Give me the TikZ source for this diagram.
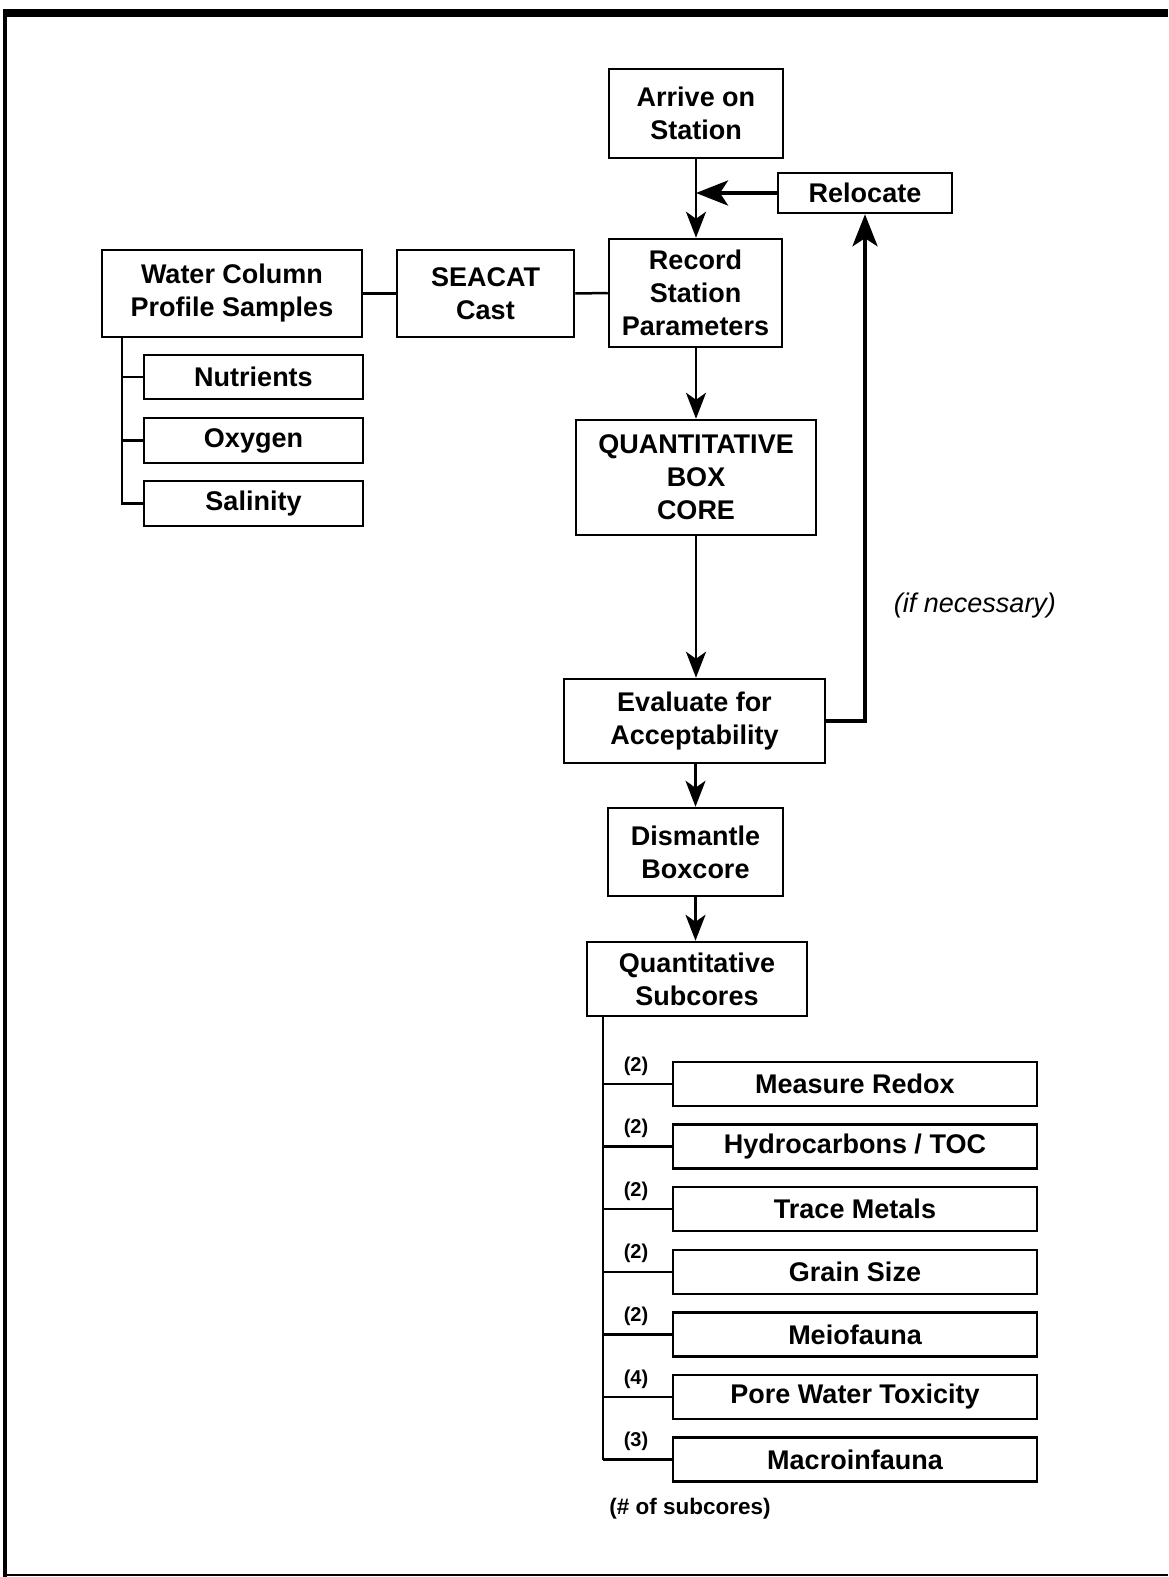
\documentclass[tikz,border=0pt]{standalone}
\usepackage{fontspec}
\setmainfont{Liberation Sans}
\usetikzlibrary{arrows.meta}
\begin{document}
\begin{tikzpicture}[x=1pt,y=-1pt,
  box/.style={draw, line width=2.5pt, font=\bfseries\fontsize{27}{33}\selectfont, align=center, inner sep=0pt, anchor=center},
  lbl/.style={font=\bfseries\fontsize{20}{22}\selectfont, inner sep=0pt},
  conn/.style={line width=2.5pt},
  arr/.style={line width=2.5pt, -{Stealth[length=26pt,width=20pt,inset=7pt]}},
  thickarr/.style={line width=4pt, -{Stealth[length=32pt,width=25pt,inset=8pt]}}]
\useasboundingbox (0,0) rectangle (1168,1577);
% frame
\draw[line width=8pt] (3,12.5) -- (1168,12.5);
\draw[line width=4pt] (5,9) -- (5,1577);
\draw[line width=1.5pt] (5,1575) -- (1168,1575);
% main flow
\node[box, minimum width=174pt, minimum height=89pt] (arrive) at (696,113.5) {Arrive on\\Station};
\node[box, minimum width=174pt, minimum height=40pt] (reloc) at (865,193) {Relocate};
\node[box, minimum width=173pt, minimum height=108pt] (record) at (695.5,293) {Record\\Station\\Parameters};
\node[box, minimum width=177pt, minimum height=87pt] (seacat) at (485.5,293.5) {SEACAT\\Cast};
\node[box, minimum width=260pt, minimum height=87pt] (water) at (232,293.5) {Water Column\\Profile Samples};
\node[box, minimum width=219pt, minimum height=44pt] (nutr) at (253.5,377) {Nutrients};
\node[box, minimum width=219pt, minimum height=45pt] (oxy) at (253.5,440.5) {Oxygen};
\node[box, minimum width=219pt, minimum height=45pt] (sal) at (253.5,503.5) {Salinity};
\node[box, minimum width=240pt, minimum height=115pt] (qbc) at (696,477.5) {QUANTITATIVE\\BOX\\CORE};
\node[box, minimum width=261pt, minimum height=84pt] (eval) at (694.5,721) {Evaluate for\\Acceptability};
\node[box, minimum width=175pt, minimum height=88pt] (dism) at (695.5,852) {Dismantle\\Boxcore};
\node[box, minimum width=220pt, minimum height=74pt] (sub) at (697,979) {Quantitative\\Subcores};
\node[font=\itshape\fontsize{27}{33}\selectfont, inner sep=0pt] (ifnec) at (975,606) {(if necessary)};
% arrows
\draw[arr] (arrive.south) -- (arrive.south |- record.north);
\coordinate (join) at (reloc.west -| arrive.south);
\draw[thickarr] (reloc.west) -- (join);
\draw[arr] (record.south -| qbc.north) -- (qbc.north);
\draw[arr] (qbc.south) -- (qbc.south |- eval.north);
\draw[arr] (eval.south -| dism.north) -- (dism.north);
\draw[arr] (dism.south) -- (dism.south |- sub.north);
\draw[line width=4pt, -{Stealth[length=32pt,width=25pt,inset=8pt]}, line join=miter] (eval.east) -| (reloc.south);
% side links
\draw[conn] (record.west) -- (seacat.east);
\draw[conn] (seacat.west) -- (water.east);
\coordinate (wtop) at (122,337);
\draw[conn] (wtop) |- (sal.west);
\draw[conn] (wtop |- nutr.west) -- (nutr.west);
\draw[conn] (wtop |- oxy.west) -- (oxy.west);
% subcore boxes
\foreach \i/\t/\n in {0/{Measure Redox}/2,1/{Hydrocarbons / TOC}/2,2/{Trace Metals}/2,3/{Grain Size}/2,4/{Meiofauna}/2,5/{Pore Water Toxicity}/4,6/{Macroinfauna}/3}{
  \node[box, minimum width=364pt, minimum height=44pt] (s\i) at (855,{1084+62.6*\i}) {\t};
  \draw[conn] (603,{1084+62.6*\i}) -- (s\i.west);
  \node[lbl] (n\i) at (636,{1066+62.6*\i}) {(\n)};
}
\coordinate (stop) at (603,1016);
\draw[conn] (stop) -- (stop |- s6.west);
\node[font=\bfseries\fontsize{22.5}{25}\selectfont, inner sep=0pt] (note) at (690,1509) {(\# of subcores)};
\end{tikzpicture}
\end{document}
